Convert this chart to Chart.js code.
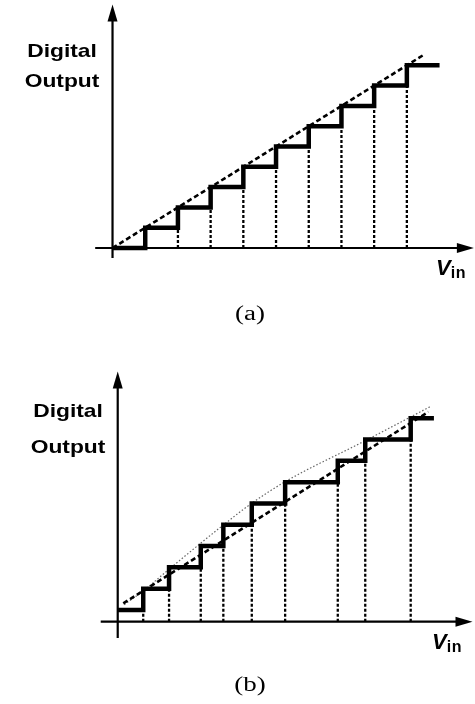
<!DOCTYPE html>
<html>
<head>
<meta charset="utf-8">
<script src="https://cdn.jsdelivr.net/npm/chart.js@4.4.1/dist/chart.umd.min.js"></script>
<style>
  html, body { margin: 0; padding: 0; background: #fff; }
  #page { position: relative; width: 475px; height: 704px; overflow: hidden; background: #fff; }
  canvas { position: absolute; left: 0; }
  .lbl { position: absolute; color: #000; white-space: nowrap; line-height: 1; }
  .ylab { font-family: "Liberation Sans", Arial, sans-serif; font-weight: bold; font-size: 19px;
          transform: translateX(-50%) scaleX(1.2); transform-origin: center; }
  .vin { font-family: "Liberation Sans", Arial, sans-serif; font-weight: bold; font-size: 22px; }
  .vin i { font-style: italic; }
  .vin span { font-size: 16px; position: relative; top: 3px; letter-spacing: 0.5px; }
  .cap { font-family: "Liberation Serif", "Times New Roman", serif; font-size: 20px;
         transform: translateX(-50%) scaleX(1.35); }
</style>
</head>
<body>
<div id="page">
  <canvas id="chartA" width="475" height="352" style="top:0"></canvas>
  <canvas id="chartB" width="475" height="352" style="top:352px"></canvas>

  <div class="lbl ylab" style="left:62px; top:41px">Digital</div>
  <div class="lbl ylab" style="left:62px; top:71px">Output</div>
  <div class="lbl vin" style="left:436px; top:257px"><i>V</i><span>in</span></div>
  <div class="lbl cap" style="left:250px; top:303px">(a)</div>

  <div class="lbl ylab" style="left:68px; top:401px">Digital</div>
  <div class="lbl ylab" style="left:68px; top:437px">Output</div>
  <div class="lbl vin" style="left:432px; top:631px"><i>V</i><span>in</span></div>
  <div class="lbl cap" style="left:250px; top:674px">(b)</div>
</div>

<script>
// ---- Panel (a): ideal (uniform) quantizer ----
const codesA = [0, 1, 2, 3, 4, 5, 6, 7, 8, 9];
const edgesA = [1, 2, 3, 4, 5, 6, 7, 8, 9];      // input at which codes 1..9 begin
const endA = 10;                                   // input where the top step stops
const idealAx = [0, 9.5];
const idealAy = [0, 9.5];

// ---- Panel (b): nonlinear quantizer ----
const codesB = [0, 1, 2, 3, 4, 5, 6, 7, 8, 9];
const edgesB = [0.78, 1.57, 2.54, 3.23, 4.10, 5.12, 6.73, 7.57, 8.96];
const endB = 9.67;
const straightBx = [0.17, 9.5];
const straightBy = [0.31, 9.3];
const curveBx = [0.2, 0.78, 1.6, 3.23, 4.1, 5.12, 7.51, 9.55];
const curveBy = [0.25, 0.9, 1.95, 3.99, 5.01, 6.02, 7.9, 9.54];

// Build stair points: each code holds from its edge to the next edge
function stairPoints(codes, edges, end) {
  const xs = [0, ...edges, end];
  const ys = [...codes, codes[codes.length - 1]];
  return xs.map((x, i) => ({ x, y: ys[i] }));
}
// Dotted drop lines from the bottom of each riser down to the horizontal axis
function dropLines(codes, edges, axisY) {
  const pts = [];
  edges.forEach((e, i) => {
    const bottom = codes[i];
    if (bottom > axisY) {
      pts.push({ x: e, y: axisY }, { x: e, y: bottom }, { x: e, y: null });
    }
  });
  return pts;
}
function zipXY(xs, ys) { return xs.map((x, i) => ({ x, y: ys[i] })); }

// Axes with arrowheads, drawn from the chart's own scales
const axesArrows = {
  id: 'axesArrows',
  beforeDatasetsDraw(chart, args, o) {
    const { ctx, scales: { x, y } } = chart;
    const x0 = x.getPixelForValue(o.xCross);
    const y0 = y.getPixelForValue(o.yCross);
    const xL = x.getPixelForValue(o.xFrom);
    const xR = x.getPixelForValue(x.max);
    const yB = y.getPixelForValue(o.yFrom);
    const yT = y.getPixelForValue(y.max);
    ctx.save();
    ctx.strokeStyle = '#000';
    ctx.fillStyle = '#000';
    ctx.lineWidth = 2.2;
    ctx.beginPath();
    ctx.moveTo(xL, y0); ctx.lineTo(xR - 10, y0);
    ctx.moveTo(x0, yB); ctx.lineTo(x0, yT + 10);
    ctx.stroke();
    const L = 17, W = 5;
    ctx.beginPath();
    ctx.moveTo(xR, y0); ctx.lineTo(xR - L, y0 - W); ctx.lineTo(xR - L, y0 + W); ctx.closePath();
    ctx.fill();
    ctx.beginPath();
    ctx.moveTo(x0, yT); ctx.lineTo(x0 - W, yT + L); ctx.lineTo(x0 + W, yT + L); ctx.closePath();
    ctx.fill();
    ctx.restore();
  }
};

function baseOptions(xr, yr, pad, axes) {
  return {
    responsive: false,
    animation: false,
    devicePixelRatio: 1,
    layout: { padding: pad },
    plugins: { legend: { display: false }, tooltip: { enabled: false }, title: { display: false },
               axesArrows: axes },
    elements: { point: { radius: 0, hoverRadius: 0 } },
    scales: {
      x: { type: 'linear', min: xr[0], max: xr[1], display: false },
      y: { type: 'linear', min: yr[0], max: yr[1], display: false }
    }
  };
}

// 'before': hold the previous code horizontally, then rise at the edge
const stairStyle = { borderColor: '#000', borderWidth: 4.5, stepped: 'before', fill: false,
                     borderCapStyle: 'butt', borderJoinStyle: 'miter', order: 0 };
const dropStyle = { borderColor: '#000', borderWidth: 2.3, borderDash: [3, 2], spanGaps: false,
                    fill: false, order: 3 };
const dashStyle = { borderColor: '#000', borderWidth: 2.6, borderDash: [5, 3], fill: false, order: 1 };

new Chart(document.getElementById('chartA'), {
  type: 'line',
  data: {
    datasets: [
      { ...stairStyle, data: stairPoints(codesA, edgesA, endA) },
      { ...dashStyle, data: zipXY(idealAx, idealAy) },
      { ...dropStyle, data: dropLines(codesA, edgesA, 0) }
    ]
  },
  options: baseOptions([-0.6, 11.05], [-0.6, 12.0],
    { left: 92.9, right: 1.1, top: 4.4, bottom: 91.8 },
    { xCross: 0, yCross: 0, xFrom: -0.53, yFrom: -0.49 }),
  plugins: [axesArrows]
});

new Chart(document.getElementById('chartB'), {
  type: 'line',
  data: {
    datasets: [
      { ...stairStyle, data: stairPoints(codesB, edgesB, endB) },
      { ...dashStyle, data: zipXY(straightBx, straightBy) },
      { borderColor: '#666', borderWidth: 1.2, borderDash: [1.5, 2], fill: false,
        cubicInterpolationMode: 'monotone', order: 2, data: zipXY(curveBx, curveBy) },
      { ...dropStyle, data: dropLines(codesB, edgesB, -0.55) }
    ]
  },
  options: baseOptions([-0.6, 10.85], [-1.4, 11.2],
    { left: 98.1, right: 2.5, top: 19.4, bottom: 64.2 },
    { xCross: 0, yCross: -0.55, xFrom: -0.52, yFrom: -1.31 }),
  plugins: [axesArrows]
});
</script>
</body>
</html>
